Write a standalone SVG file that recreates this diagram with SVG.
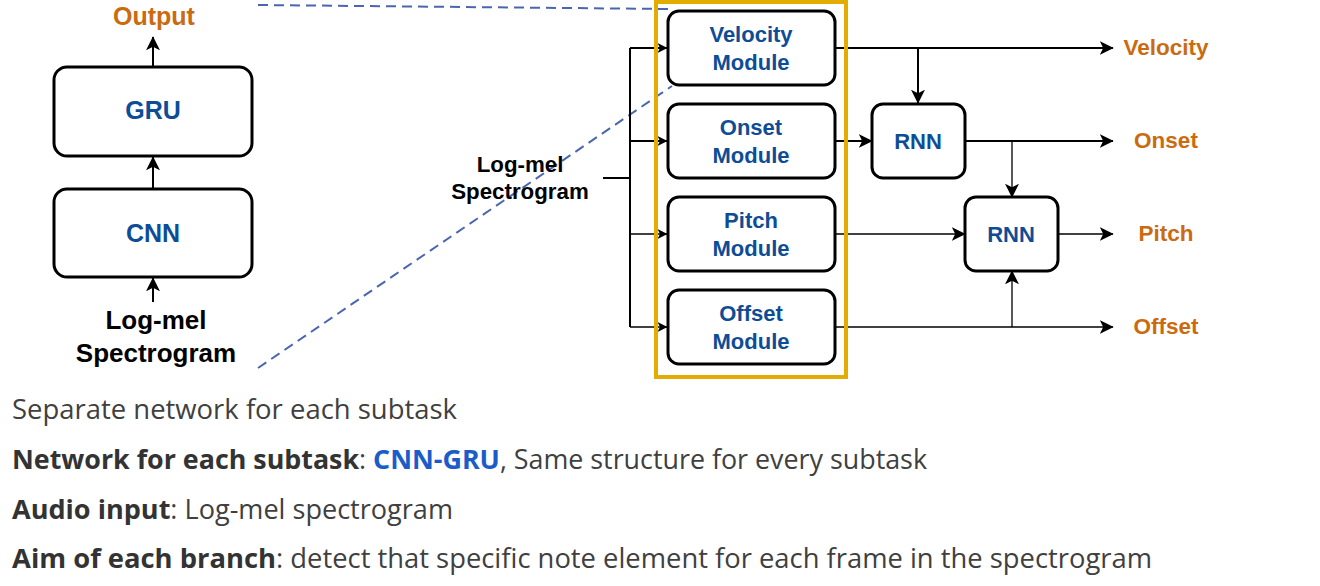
<svg xmlns="http://www.w3.org/2000/svg" width="1320" height="586" viewBox="0 0 1320 586">
<defs>
<marker id="ah" viewBox="0 0 10 10" refX="9.5" refY="5" markerWidth="10" markerHeight="10" markerUnits="userSpaceOnUse" orient="auto">
<path d="M0,0 L10,5 L0,10 L2.5,5 Z" fill="#000"/>
</marker>
<marker id="ahL" viewBox="0 0 10 10" refX="9.5" refY="5" markerWidth="14" markerHeight="14" markerUnits="userSpaceOnUse" orient="auto">
<path d="M0,0 L10,5 L0,10 L2.5,5 Z" fill="#000"/>
</marker>
</defs>
<style>
.box{fill:#fff;stroke:#000;stroke-width:3}
.lbl{font-family:"Liberation Sans",Arial,sans-serif;font-weight:bold;text-anchor:middle}
.blue{fill:#0e4d96}
.orange{fill:#cc6a10}
.blk{fill:#000}
.ln{fill:none;stroke:#000;stroke-width:2}
.thin{fill:none;stroke:#000;stroke-width:1.3}
.dash{fill:none;stroke:#4a66b0;stroke-width:2;stroke-dasharray:10 6}
.body{font-family:"Open Sans","Noto Sans",sans-serif;font-size:27px;fill:#404040}
.b{font-weight:bold;fill:#333}
</style>
<rect width="1320" height="586" fill="#fff"/>

<g id="connectors">
<path class="ln" d="M153,66 V37" marker-end="url(#ahL)"/>
<path class="ln" d="M153,188 V157" marker-end="url(#ahL)"/>
<path class="ln" d="M153,302 V278" marker-end="url(#ahL)"/>
<path class="dash" d="M258,5 L668,9"/>
<path class="dash" d="M258,368 L672,86"/>
<path class="ln" d="M603,178 H630"/>
<path class="ln" d="M630,48 V327"/>
<path class="ln" d="M630,48 H667" marker-end="url(#ah)"/>
<path class="ln" d="M630,141 H667" marker-end="url(#ah)"/>
<path class="thin" d="M630,234 H667" marker-end="url(#ah)"/>
<path class="thin" d="M630,327 H667" marker-end="url(#ah)"/>
<path class="ln" d="M836,48 H1113" marker-end="url(#ahL)"/>
<path class="ln" d="M918,48 V103" marker-end="url(#ahL)"/>
<path class="ln" d="M836,141 H872" marker-end="url(#ahL)"/>
<path class="ln" d="M965,141 H1113" marker-end="url(#ahL)"/>
<path class="thin" d="M1012,141 V197" marker-end="url(#ahL)"/>
<path class="thin" d="M836,234 H965" marker-end="url(#ahL)"/>
<path class="thin" d="M1058,234 H1113" marker-end="url(#ahL)"/>
<path class="thin" d="M836,327 H1113" marker-end="url(#ahL)"/>
<path class="thin" d="M1012,327 V271" marker-end="url(#ahL)"/>
</g>

<g id="output-label"><text class="lbl orange" x="154" y="25" font-size="25">Output</text></g>
<g id="gru"><rect class="box" x="54" y="67" width="198" height="89" rx="13"/><text class="lbl blue" x="153" y="119" font-size="25">GRU</text></g>
<g id="cnn"><rect class="box" x="54" y="189" width="198" height="88" rx="13"/><text class="lbl blue" x="153" y="242" font-size="25">CNN</text></g>
<g id="input-left"><text class="lbl blk" x="156" y="329" font-size="26">Log-mel</text><text class="lbl blk" x="156" y="362" font-size="26">Spectrogram</text></g>

<g id="input-mid"><text class="lbl blk" x="520" y="172" font-size="22.3">Log-mel</text><text class="lbl blk" x="520" y="199" font-size="22.3">Spectrogram</text></g>

<g id="velocity-module"><rect class="box" x="668" y="11" width="167" height="74" rx="11"/><text class="lbl blue" x="751" y="42" font-size="22">Velocity</text><text class="lbl blue" x="751" y="70" font-size="22">Module</text></g>
<g id="onset-module"><rect class="box" x="668" y="104" width="167" height="74" rx="11"/><text class="lbl blue" x="751" y="135" font-size="22">Onset</text><text class="lbl blue" x="751" y="163" font-size="22">Module</text></g>
<g id="pitch-module"><rect class="box" x="668" y="197" width="167" height="74" rx="11"/><text class="lbl blue" x="751" y="228" font-size="22">Pitch</text><text class="lbl blue" x="751" y="256" font-size="22">Module</text></g>
<g id="offset-module"><rect class="box" x="668" y="290" width="167" height="74" rx="11"/><text class="lbl blue" x="751" y="321" font-size="22">Offset</text><text class="lbl blue" x="751" y="349" font-size="22">Module</text></g>

<g id="module-frame"><rect x="656" y="2" width="190" height="375" fill="none" stroke="#e3ac00" stroke-width="4"/></g>

<g id="rnn1"><rect class="box" x="872" y="104" width="93" height="74" rx="11"/><text class="lbl blue" x="918" y="149" font-size="22">RNN</text></g>
<g id="rnn2"><rect class="box" x="965" y="197" width="93" height="74" rx="11"/><text class="lbl blue" x="1011" y="242" font-size="22">RNN</text></g>

<g id="out-velocity"><text class="lbl orange" x="1166" y="55" font-size="22.5">Velocity</text></g>
<g id="out-onset"><text class="lbl orange" x="1166" y="148" font-size="22.5">Onset</text></g>
<g id="out-pitch"><text class="lbl orange" x="1166" y="241" font-size="22.5">Pitch</text></g>
<g id="out-offset"><text class="lbl orange" x="1166" y="334" font-size="22.5">Offset</text></g>

<g id="notes">
<text class="body" x="12" y="419" textLength="445" lengthAdjust="spacingAndGlyphs">Separate network for each subtask</text>
<text class="body" x="12" y="469" textLength="915" lengthAdjust="spacingAndGlyphs"><tspan class="b">Network for each subtask</tspan>: <tspan font-weight="bold" fill="#1a5cc8">CNN-GRU</tspan>, Same structure for every subtask</text>
<text class="body" x="12" y="519" textLength="441" lengthAdjust="spacingAndGlyphs"><tspan class="b">Audio input</tspan>: Log-mel spectrogram</text>
<text class="body" x="12" y="568" textLength="1140" lengthAdjust="spacingAndGlyphs"><tspan class="b">Aim of each branch</tspan>: detect that specific note element for each frame in the spectrogram</text>
</g>
</svg>
